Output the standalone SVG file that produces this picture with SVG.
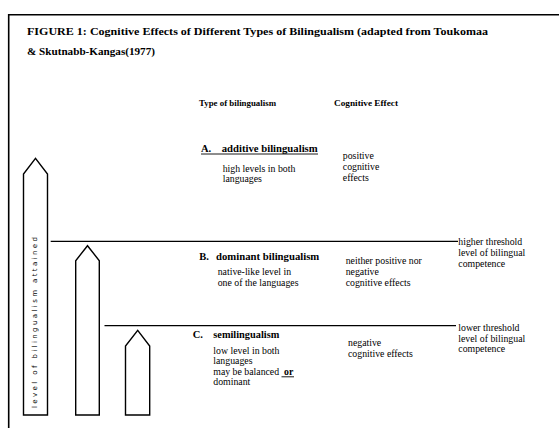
<svg xmlns="http://www.w3.org/2000/svg" width="559" height="428" viewBox="0 0 559 428">
<style>
.t{font-family:"Liberation Serif","Times New Roman",serif;fill:#000}
.b{font-weight:bold}
.h{font-size:10.5px;font-weight:bold}
.s{font-size:9.8px}
.l{font-size:8.5px;font-weight:bold}
.ti{font-size:10.5px;font-weight:bold}
.ar{fill:#fff;stroke:#000;stroke-width:1.4}
.ln{stroke:#000;stroke-width:1.3;fill:none}
.v{font-family:"DejaVu Sans","Liberation Sans",sans-serif;font-size:7px;fill:#000}
</style>
<rect x="0" y="0" width="559" height="428" fill="#fff"/>
<g id="frame"><path d="M8.7,428 V14.7 H559" fill="none" stroke="#000" stroke-width="1.6"/></g>
<g id="title">
<text class="t ti" x="27" y="35" textLength="461" lengthAdjust="spacingAndGlyphs">FIGURE 1: Cognitive Effects of Different Types of  Bilingualism (adapted from Toukomaa</text>
<text class="t ti" x="27" y="54.5" textLength="128" lengthAdjust="spacingAndGlyphs">&amp; Skutnabb-Kangas(1977)</text>
</g>
<g id="headers">
<text class="t l" x="199" y="106" textLength="77" lengthAdjust="spacingAndGlyphs">Type of bilingualism</text>
<text class="t l" x="334" y="106" textLength="64" lengthAdjust="spacingAndGlyphs">Cognitive Effect</text>
</g>
<g id="connectors">
<line class="ln" x1="50.7" y1="241.3" x2="458" y2="241.3"/>
<line class="ln" x1="104.5" y1="325.7" x2="456" y2="325.7"/>
<rect x="97.5" y="324.8" width="2.2" height="2" fill="#000"/>
</g>
<g id="arrow1">
<path class="ar" d="M23.5,415 V174 L35.5,158.3 L47.5,174 V415 Z"/>
<text class="v" transform="translate(37.2,408) rotate(-90)" textLength="171" lengthAdjust="spacing">level of bilingualism attained</text>
</g>
<g id="arrow2"><path class="ar" d="M75.7,415 V260.7 L87.5,245.7 L99.3,260.7 V415 Z"/></g>
<g id="arrow3"><path class="ar" d="M125.5,415 V346 L137.7,330.3 L149.7,346 V415 Z"/></g>
<g id="nodeA">
<text class="t h" x="201" y="151.7">A.</text>
<text class="t h" x="221.7" y="151.7" textLength="96" lengthAdjust="spacingAndGlyphs">additive bilingualism</text>
<line x1="201" y1="154" x2="318" y2="154" stroke="#000" stroke-width="0.9"/>
<text class="t s" x="222.7" y="171.5">high levels in both</text>
<text class="t s" x="222.7" y="182">languages</text>
<text class="t s" x="342.8" y="159">positive</text>
<text class="t s" x="342.8" y="170">cognitive</text>
<text class="t s" x="342.8" y="180.7">effects</text>
</g>
<g id="nodeB">
<text class="t h" x="199.3" y="260">B.</text>
<text class="t h" x="216" y="260" textLength="103.3" lengthAdjust="spacingAndGlyphs">dominant bilingualism</text>
<text class="t s" x="217.7" y="275.3">native-like level in</text>
<text class="t s" x="217.7" y="285.7">one of the languages</text>
<text class="t s" x="345.7" y="264">neither positive nor</text>
<text class="t s" x="345.7" y="275">negative</text>
<text class="t s" x="345.7" y="286">cognitive effects</text>
<text class="t s" x="458.3" y="245">higher threshold</text>
<text class="t s" x="458.3" y="255.7">level of bilingual</text>
<text class="t s" x="458.3" y="266.5">competence</text>
</g>
<g id="nodeC">
<text class="t h" x="192.7" y="338.3">C.</text>
<text class="t h" x="213.3" y="338.3" textLength="66" lengthAdjust="spacingAndGlyphs">semilingualism</text>
<text class="t s" x="213.3" y="354">low level in both</text>
<text class="t s" x="213.3" y="364.3">languages</text>
<text class="t s" x="213.3" y="375">may be balanced </text>
<text class="t s b" x="284" y="375">or</text>
<line x1="281.5" y1="376.8" x2="294" y2="376.8" stroke="#000" stroke-width="0.9"/>
<text class="t s" x="213.3" y="384.8">dominant</text>
<text class="t s" x="348" y="346">negative</text>
<text class="t s" x="348" y="356.7">cognitive effects</text>
<text class="t s" x="458.3" y="331">lower threshold</text>
<text class="t s" x="458.3" y="341.7">level of bilingual</text>
<text class="t s" x="458.3" y="352.3">competence</text>
</g>
</svg>
